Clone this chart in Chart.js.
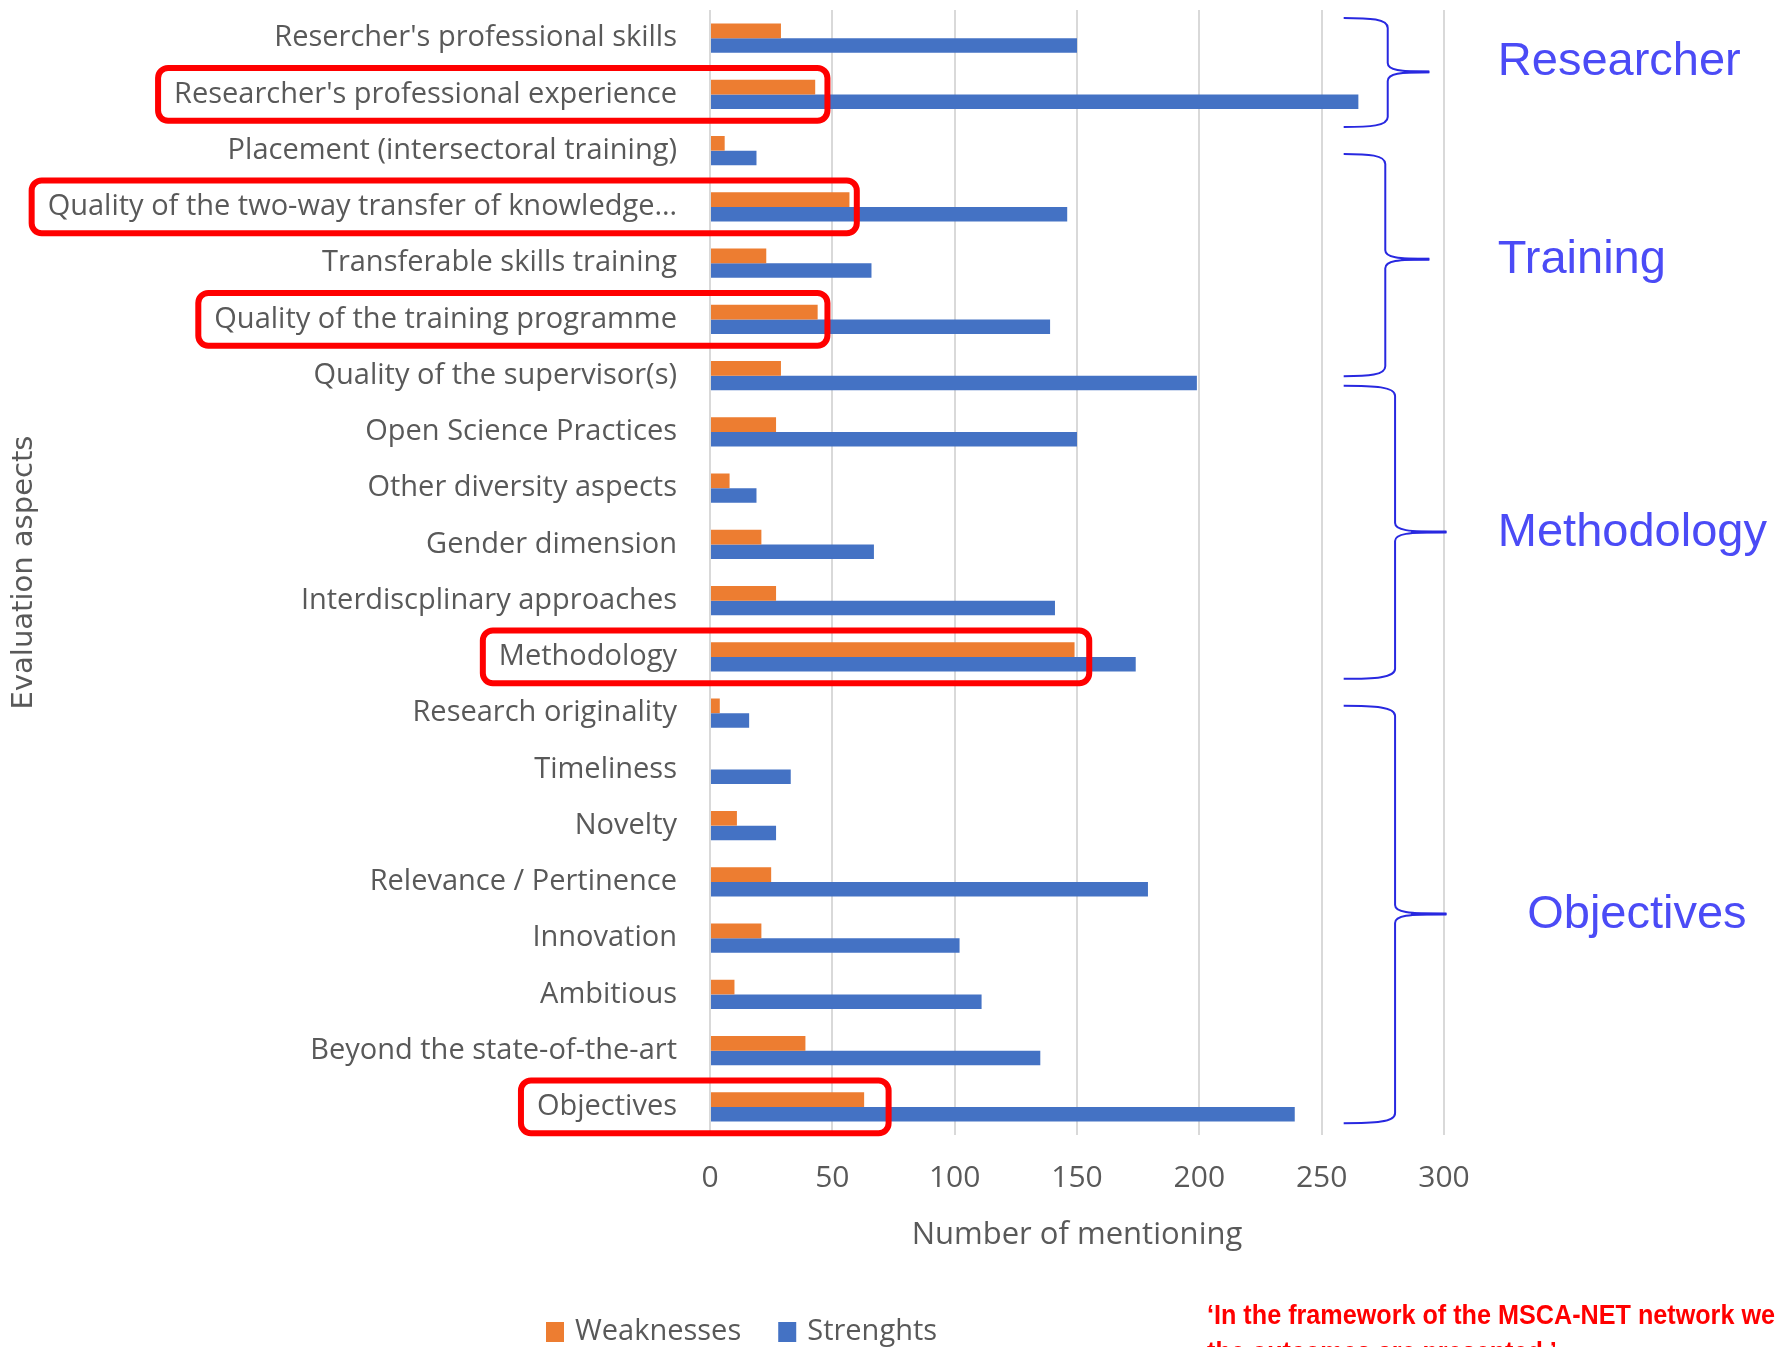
<!DOCTYPE html>
<html>
<head>
<meta charset="utf-8">
<script src="https://cdn.jsdelivr.net/npm/chart.js@4.4.1/dist/chart.umd.min.js"></script>
<style>
  html, body { margin: 0; padding: 0; background: #fff; }
  #wrap { width: 1775px; height: 1347px; position: relative; overflow: hidden; }
</style>
</head>
<body>
<div id="wrap"><canvas id="chart" width="1775" height="1347"></canvas></div>
<script>
// --- data ---
const categories = [
    "Resercher's professional skills",
    "Researcher's professional experience",
    "Placement (intersectoral training)",
    "Quality of the two-way transfer of knowledge…",
    "Transferable skills training",
    "Quality of the training programme",
    "Quality of the supervisor(s)",
    "Open Science Practices",
    "Other diversity aspects",
    "Gender dimension",
    "Interdiscplinary approaches",
    "Methodology",
    "Research originality",
    "Timeliness",
    "Novelty",
    "Relevance / Pertinence",
    "Innovation",
    "Ambitious",
    "Beyond the state-of-the-art",
    "Objectives",
]
const weaknesses = [29, 43, 6, 57, 23, 44, 29, 27, 8, 21, 27, 149, 4, 0, 11, 25, 21, 10, 39, 63]
const strenghts = [150, 265, 19, 146, 66, 139, 199, 150, 19, 67, 141, 174, 16, 33, 27, 179, 102, 111, 135, 239]
const seriesNames = ["Weaknesses", "Strenghts"]
const xMin = 0
const xMax = 300
const xStep = 50

// --- annotations drawn on top (category index / value units) ---
const highlightRows = [1, 3, 5, 11, 19]
const highlightEnds = [48, 60, 48, 155, 73]
const groupNames = ["Researcher", "Training", "Methodology", "Objectives"]
const groupSpans = [[-0.36, 1.58], [2.06, 6.01], [6.18, 11.39], [11.87, 19.29]]
const groupMids = [0.6, 3.93, 8.78, 15.57]
const groupSpine = [277, 276, 280, 280]
const groupTip = [294, 294, 301, 301]
const groupLabelX = [322, 322, 322, 334]
const groupLabelY = [0.42, 3.94, 8.8, 15.59]
const braceLeft = 259
const noteLines = ["\u2018In the framework of the MSCA-NET network we", "the outcomes are presented.\u2019"]

const GREY = "#595959"
const ORANGE = "#ED7D31"
const BLUE = "#4472C4"
const LABEL_FONT = 29
const LABEL_PAD = 33

function roundedRect(ctx, x, y, w, h, r) {
    ctx.beginPath()
    ctx.moveTo(x + r, y)
    ctx.arcTo(x + w, y, x + w, y + h, r)
    ctx.arcTo(x + w, y + h, x, y + h, r)
    ctx.arcTo(x, y + h, x, y, r)
    ctx.arcTo(x, y, x + w, y, r)
    ctx.closePath()
}

const overlays = {
    id: "overlays",
    afterDraw(chart) {
        const { ctx, scales: { x, y } } = chart
        ctx.save()

        // red frames round some rows
        ctx.font = `${LABEL_FONT}px 'Open Sans'`
        ctx.strokeStyle = "#ff0000"
        ctx.lineWidth = 6
        highlightRows.forEach((row, i) => {
            const textLeft = y.right - LABEL_PAD - ctx.measureText(categories[row]).width
            const left = textLeft - 16
            const right = x.getPixelForValue(highlightEnds[i])
            const top = y.getPixelForValue(row - 0.47)
            const bottom = y.getPixelForValue(row + 0.47)
            roundedRect(ctx, left, top, right - left, bottom - top, 10)
            ctx.stroke()
        })

        // curly braces and group names
        groupNames.forEach((name, i) => {
            const xl = x.getPixelForValue(braceLeft)
            const xs = x.getPixelForValue(groupSpine[i])
            const xt = x.getPixelForValue(groupTip[i])
            const yt = y.getPixelForValue(groupSpans[i][0])
            const yb = y.getPixelForValue(groupSpans[i][1])
            const ym = y.getPixelForValue(groupMids[i])
            const cx = xl + (xs - xl) * 0.6
            ctx.strokeStyle = "#2828e0"
            ctx.lineWidth = 2
            ctx.beginPath()
            ctx.moveTo(xl, yt)
            ctx.bezierCurveTo(cx, yt, xs, yt + 1, xs, yt + 10)
            ctx.lineTo(xs, ym - 9)
            ctx.bezierCurveTo(xs, ym - 2, xs + 12, ym, xt, ym)
            ctx.moveTo(xt, ym)
            ctx.bezierCurveTo(xs + 12, ym, xs, ym + 2, xs, ym + 9)
            ctx.lineTo(xs, yb - 10)
            ctx.bezierCurveTo(xs, yb - 1, cx, yb, xl, yb)
            ctx.stroke()
            ctx.lineWidth = 3
            ctx.beginPath()
            ctx.moveTo(xs + 16, ym)
            ctx.lineTo(xt, ym)
            ctx.stroke()

            ctx.fillStyle = "#4b4bf6"
            ctx.font = "47px 'Liberation Sans', Arial, sans-serif"
            ctx.textAlign = "left"
            ctx.textBaseline = "middle"
            ctx.fillText(name, x.getPixelForValue(groupLabelX[i]), y.getPixelForValue(groupLabelY[i]))
        })

        // legend
        let lx = 546
        ctx.font = `${LABEL_FONT}px 'Open Sans'`
        ctx.textBaseline = "middle"
        ctx.textAlign = "left"
        chart.data.datasets.forEach(ds => {
            ctx.fillStyle = ds.backgroundColor
            ctx.fillRect(lx, 1322, 18, 20)
            ctx.fillStyle = GREY
            ctx.fillText(ds.label, lx + 29, 1332)
            lx += 29 + ctx.measureText(ds.label).width + 37
        })

        // red note, partly cut by the page edge
        ctx.fillStyle = "#ff0000"
        ctx.font = "bold 27px 'Liberation Sans', Arial, sans-serif"
        ctx.textBaseline = "alphabetic"
        const squeeze = 568 / ctx.measureText(noteLines[0]).width
        ctx.translate(1207, 0)
        ctx.scale(squeeze, 1)
        ctx.fillText(noteLines[0], 0, 1324)
        ctx.fillText(noteLines[1], 0, 1361)

        ctx.restore()
    },
}

new Chart(document.getElementById("chart"), {
    type: "bar",
    data: {
        labels: categories,
        datasets: [
            { label: seriesNames[0], data: weaknesses, backgroundColor: ORANGE },
            { label: seriesNames[1], data: strenghts, backgroundColor: BLUE },
        ],
    },
    options: {
        indexAxis: "y",
        responsive: false,
        animation: false,
        devicePixelRatio: 1,
        layout: { padding: { left: 5, right: 331, top: 10, bottom: 93.4 } },
        datasets: {
            bar: { barPercentage: 1, categoryPercentage: 0.52, borderWidth: 0 },
        },
        plugins: {
            legend: { display: false },
            tooltip: { enabled: false },
        },
        scales: {
            x: {
                min: xMin,
                max: xMax,
                ticks: {
                    stepSize: xStep,
                    color: GREY,
                    padding: 25,
                    font: { family: "'Open Sans'", size: 30 },
                },
                grid: { color: "#d9d9d9", lineWidth: 2, drawTicks: false },
                border: { display: false },
                title: {
                    display: true,
                    text: "Number of mentioning",
                    color: GREY,
                    padding: { top: 0, bottom: 0 },
                    font: { family: "'Open Sans'", size: 31 },
                },
                afterFit: (scale) => { scale.height = 118.6 },
            },
            y: {
                ticks: {
                    color: GREY,
                    padding: LABEL_PAD,
                    autoSkip: false,
                    font: { family: "'Open Sans'", size: LABEL_FONT },
                },
                grid: { display: false, drawTicks: false },
                border: { display: false },
                title: {
                    display: true,
                    text: "Evaluation aspects",
                    color: GREY,
                    padding: { top: 2, bottom: 0 },
                    font: { family: "'DejaVu Sans'", size: 29 },
                },
                afterFit: (scale) => {
                    // fixed label column; labels sit in the category bands, so no extra top/bottom room
                    scale.width = 705
                    scale.paddingTop = 0
                    scale.paddingBottom = 0
                },
            },
        },
    },
    plugins: [overlays],
})
</script>
</body>
</html>
